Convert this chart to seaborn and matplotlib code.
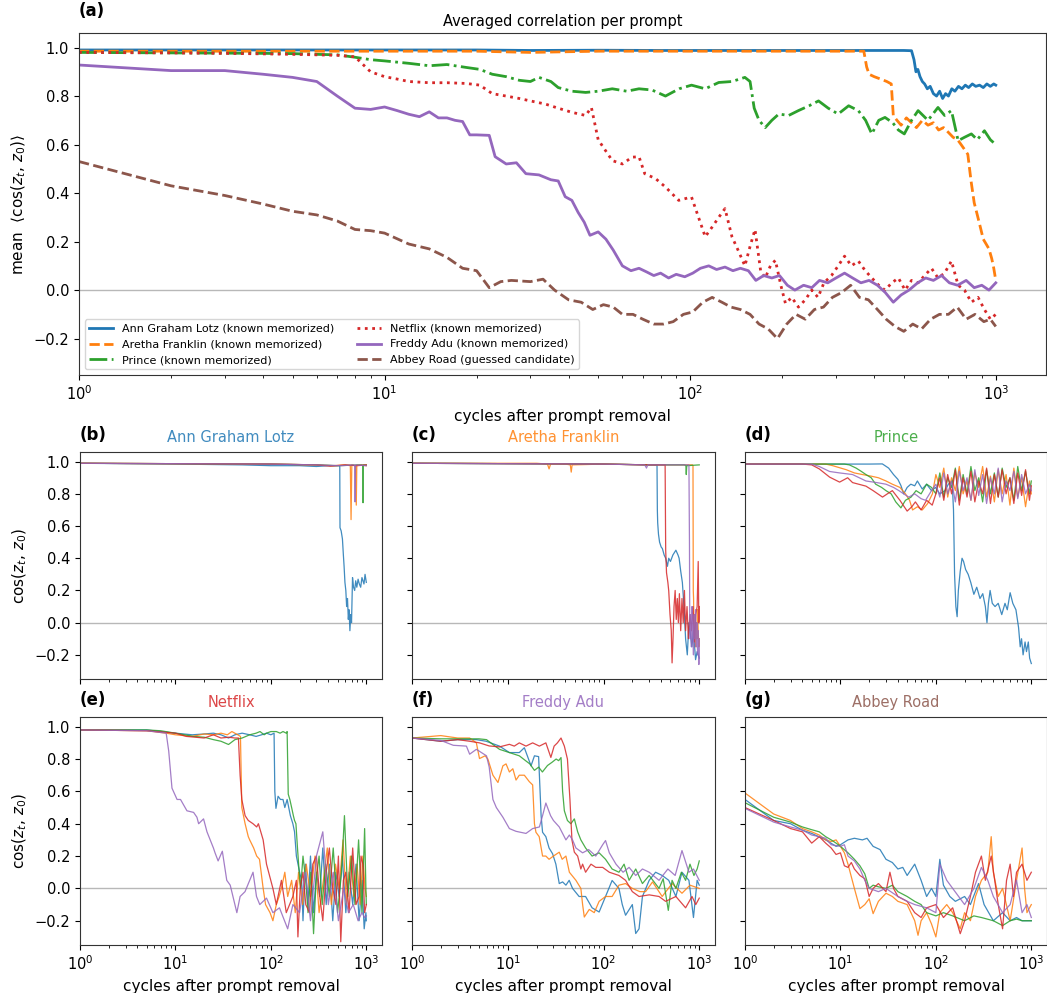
import matplotlib
matplotlib.use("Agg")
import matplotlib.pyplot as plt
import seaborn as sns
import pandas as pd

# ---------------- colours / names ----------------
RUN_COLORS = ["#1f77b4", "#ff7f0e", "#2ca02c", "#d62728", "#9467bd"]
PROMPT_COLORS = ["#1f77b4", "#ff7f0e", "#2ca02c", "#d62728", "#9467bd", "#8c564b"]
PROMPT_NAMES = ["Ann Graham Lotz", "Aretha Franklin", "Prince", "Netflix", "Freddy Adu", "Abbey Road"]
PROMPT_TAGS = ["known memorized"] * 5 + ["guessed candidate"]
PROMPT_STYLES = ["-", "--", "-.", ":", "-", "--"]
PANEL_LABELS = ["(b)", "(c)", "(d)", "(e)", "(f)", "(g)"]

# ---------------- main panel (a): averaged correlation ----------------
lotz_x = [1, 2, 3, 5, 8, 12, 20, 30, 50, 80, 120, 200, 300, 400, 500, 530, 540, 548, 556, 565, 575, 585, 597, 610,
          625, 640, 655, 670, 685, 700, 718, 735, 755, 775, 795, 815, 838, 860, 885, 910, 935, 960, 985, 1000]
lotz_y = [0.99, 0.99, 0.99, 0.99, 0.99, 0.99, 0.99, 0.988, 0.989, 0.988, 0.988, 0.988, 0.988, 0.988, 0.988, 0.987,
          0.95, 0.90, 0.91, 0.88, 0.86, 0.85, 0.83, 0.84, 0.81, 0.80, 0.82, 0.79, 0.81, 0.80, 0.83, 0.82, 0.84, 0.83,
          0.845, 0.835, 0.85, 0.84, 0.845, 0.835, 0.85, 0.84, 0.85, 0.845]

aretha_x = [1, 2, 3, 5, 8, 12, 20, 30, 50, 80, 120, 200, 300, 370, 378, 385, 400, 420, 440, 455, 462, 475, 490, 510,
            530, 550, 575, 600, 625, 650, 675, 700, 725, 750, 770, 790, 810, 830, 850, 870, 890, 910, 930, 950, 970,
            985, 1000]
aretha_y = [0.985, 0.985, 0.985, 0.985, 0.985, 0.985, 0.985, 0.98, 0.985, 0.985, 0.985, 0.985, 0.985, 0.985, 0.92,
            0.89, 0.88, 0.87, 0.86, 0.85, 0.72, 0.70, 0.68, 0.71, 0.69, 0.67, 0.70, 0.68, 0.69, 0.66, 0.67, 0.65, 0.63,
            0.62, 0.60, 0.58, 0.56, 0.45, 0.36, 0.31, 0.26, 0.21, 0.19, 0.17, 0.13, 0.09, 0.04]

prince_x = [1, 2, 3, 4, 5, 6, 7, 8, 9, 10, 12, 14, 16, 18.5, 20.5, 22.5, 25, 27.6, 30, 32, 35, 37, 41, 45.5, 50, 55.6,
            62, 68, 75, 83, 92, 101, 112, 124, 137, 151, 157, 162, 168, 176, 185, 195, 210, 226, 245, 263, 283, 305,
            330, 355, 375, 393, 414, 434, 460, 480, 502, 530, 557, 600, 647, 680, 716, 753, 790, 832, 870, 918, 960,
            1000]
prince_y = [0.98, 0.978, 0.977, 0.976, 0.975, 0.972, 0.97, 0.96, 0.95, 0.945, 0.935, 0.925, 0.93, 0.918, 0.91, 0.89,
            0.88, 0.865, 0.86, 0.877, 0.86, 0.835, 0.82, 0.815, 0.82, 0.83, 0.82, 0.83, 0.825, 0.80, 0.83, 0.845, 0.83,
            0.856, 0.86, 0.877, 0.86, 0.75, 0.70, 0.67, 0.70, 0.726, 0.72, 0.74, 0.76, 0.78, 0.75, 0.726, 0.76, 0.74,
            0.70, 0.644, 0.70, 0.712, 0.69, 0.66, 0.644, 0.70, 0.74, 0.70, 0.753, 0.72, 0.74, 0.616, 0.63, 0.644, 0.62,
            0.657, 0.62, 0.60]

netflix_x = [1, 2, 3, 4, 5, 6, 7, 8, 8.5, 9, 10, 11, 12, 14, 16, 18.5, 20.5, 22.5, 25, 27.6, 30, 33.6, 37, 41, 45.5,
             47.5, 50, 55.6, 60, 64.5, 68, 71, 77, 83, 91.7, 101, 112, 118, 124, 130, 137, 144, 151, 157, 163, 170,
             176, 183, 190, 198, 205, 215, 226, 238, 250, 262, 274, 290, 305, 320, 337, 355, 374, 393, 414, 434, 457,
             480, 505, 530, 557, 585, 616, 647, 680, 716, 753, 790, 832, 875, 918, 960, 1000]
netflix_y = [0.98, 0.978, 0.976, 0.974, 0.972, 0.97, 0.968, 0.962, 0.93, 0.90, 0.88, 0.87, 0.86, 0.855, 0.855, 0.852,
             0.845, 0.81, 0.80, 0.79, 0.78, 0.767, 0.75, 0.733, 0.72, 0.753, 0.62, 0.534, 0.52, 0.548, 0.55, 0.48,
             0.46, 0.425, 0.37, 0.384, 0.22, 0.26, 0.30, 0.336, 0.22, 0.16, 0.10, 0.18, 0.25, 0.08, 0.05, 0.10, 0.123,
             0.02, -0.055, -0.03, -0.07, -0.04, 0.0, -0.03, 0.03, 0.06, 0.10, 0.14, 0.10, 0.12, 0.08, 0.05, 0.02, 0.0,
             0.03, 0.05, 0.0, 0.04, 0.03, 0.06, 0.09, 0.05, 0.07, 0.12, 0.02, 0.0, -0.05, -0.03, -0.08, -0.12, -0.1]

freddy_x = [1, 2, 3, 4, 5, 6, 7, 8, 9, 10, 11, 12, 13, 14, 15, 16, 17, 18, 19, 20, 22, 23, 25, 27, 29, 32, 35, 37, 39,
            41, 43, 45, 47, 50, 53, 56, 60, 64, 68, 72, 76, 80, 85, 90, 96, 102, 108, 115, 122, 130, 138, 146, 155,
            164, 174, 185, 196, 208, 220, 235, 250, 265, 282, 300, 320, 340, 362, 385, 410, 435, 462, 490, 520, 555,
            590, 625, 665, 705, 750, 800, 850, 900, 950, 1000]
freddy_y = [0.928, 0.905, 0.905, 0.89, 0.877, 0.86, 0.80, 0.75, 0.745, 0.755, 0.74, 0.725, 0.715, 0.735, 0.71, 0.71,
            0.70, 0.695, 0.64, 0.64, 0.638, 0.55, 0.52, 0.525, 0.48, 0.475, 0.455, 0.45, 0.385, 0.37, 0.32, 0.28,
            0.226, 0.24, 0.21, 0.165, 0.10, 0.08, 0.09, 0.075, 0.06, 0.07, 0.05, 0.065, 0.055, 0.07, 0.09, 0.10,
            0.085, 0.095, 0.08, 0.09, 0.08, 0.04, 0.06, 0.05, 0.06, 0.02, 0.0, 0.02, 0.01, 0.04, 0.03, 0.05, 0.07,
            0.05, 0.03, 0.04, 0.02, -0.01, -0.05, -0.02, 0.0, 0.03, 0.05, 0.04, 0.06, 0.03, 0.02, 0.04, 0.01, 0.02,
            0.0, 0.03]

abbey_x = [1, 2, 3, 4, 5, 6, 7, 8, 9, 10, 12, 14, 16, 18, 20, 22, 24, 26, 30, 33, 36, 40, 44, 48, 52, 56, 60, 65, 70,
           76, 82, 88, 95, 102, 110, 118, 127, 136, 146, 157, 168, 180, 193, 207, 222, 238, 255, 273, 292, 313, 335,
           358, 383, 410, 438, 468, 500, 535, 572, 612, 654, 700, 748, 800, 855, 914, 960, 1000]
abbey_y = [0.53, 0.43, 0.39, 0.355, 0.325, 0.31, 0.285, 0.25, 0.245, 0.235, 0.19, 0.17, 0.135, 0.09, 0.08, 0.01,
           0.035, 0.04, 0.035, 0.045, 0.0, -0.04, -0.05, -0.08, -0.06, -0.07, -0.1, -0.1, -0.12, -0.14, -0.14, -0.13,
           -0.1, -0.09, -0.05, -0.03, -0.05, -0.07, -0.08, -0.1, -0.14, -0.16, -0.2, -0.14, -0.1, -0.12, -0.08, -0.07,
           -0.03, -0.01, 0.02, -0.03, -0.04, -0.08, -0.12, -0.15, -0.17, -0.14, -0.16, -0.12, -0.1, -0.1, -0.07,
           -0.12, -0.1, -0.13, -0.12, -0.15]

MAIN_X = [lotz_x, aretha_x, prince_x, netflix_x, freddy_x, abbey_x]
MAIN_Y = [lotz_y, aretha_y, prince_y, netflix_y, freddy_y, abbey_y]

# ---------------- panel (b): Ann Graham Lotz, 5 runs ----------------
lotz_runs_x = [
    [1, 10, 50, 100, 200, 300, 400, 500, 527, 530, 545, 562, 575, 585, 597, 610, 622, 635, 648, 660, 673, 687, 700,
     717, 735, 755, 774, 795, 820, 845, 873, 900, 945, 970, 1000],
    [1, 100, 300, 450, 600, 680, 692, 705, 770, 785, 795, 1000],
    [1, 100, 300, 500, 900, 918, 924, 930, 1000],
    [1, 100, 300, 420, 600, 800, 1000],
    [1, 100, 300, 550, 740, 755, 762, 770, 1000],
]
lotz_runs_y = [
    [0.99, 0.985, 0.98, 0.975, 0.975, 0.97, 0.975, 0.975, 0.975, 0.59, 0.57, 0.52, 0.42, 0.35, 0.25, 0.2, 0.10, 0.15,
     0.02, 0.08, -0.05, 0.05, 0.0, 0.28, 0.22, 0.20, 0.26, 0.22, 0.27, 0.24, 0.22, 0.28, 0.24, 0.30, 0.25],
    [0.99, 0.985, 0.98, 0.975, 0.98, 0.975, 0.64, 0.98, 0.975, 0.73, 0.98, 0.975],
    [0.99, 0.985, 0.98, 0.975, 0.98, 0.975, 0.745, 0.98, 0.98],
    [0.99, 0.985, 0.98, 0.972, 0.98, 0.975, 0.98],
    [0.99, 0.985, 0.98, 0.975, 0.98, 0.975, 0.75, 0.98, 0.975],
]

# ---------------- panel (c): Aretha Franklin ----------------
aretha_runs_x = [
    [1, 100, 300, 362, 365, 368, 375, 385, 400, 412, 430, 446, 465, 480, 500, 530, 570, 600, 616, 640, 666, 693, 720,
     750, 780, 810, 838, 870, 915, 950, 1000],
    [1, 20, 26, 27, 28, 40, 45, 46, 47, 100, 300, 850, 860, 866, 872, 880, 890, 900, 915, 930, 945, 960, 975, 990,
     1000],
    [1, 100, 300, 700, 725, 732, 740, 1000],
    [1, 100, 300, 440, 446, 455, 470, 480, 495, 510, 520, 532, 545, 560, 575, 590, 605, 620, 640, 660, 680, 700, 720,
     745, 770, 800, 830, 860, 890, 920, 950, 975, 990, 1000],
    [1, 100, 270, 281, 290, 300, 780, 790, 795, 805, 815, 828, 840, 855, 870, 885, 900, 915, 930, 945, 960, 975, 990,
     1000],
]
aretha_runs_y = [
    [0.99, 0.985, 0.98, 0.98, 0.70, 0.62, 0.55, 0.50, 0.47, 0.46, 0.42, 0.40, 0.35, 0.40, 0.38, 0.42, 0.45, 0.42,
     0.40, 0.32, 0.25, 0.10, -0.10, -0.20, 0.0, -0.08, -0.15, -0.05, -0.23, -0.18, -0.22],
    [0.99, 0.99, 0.985, 0.955, 0.985, 0.985, 0.98, 0.935, 0.98, 0.985, 0.98, 0.98, 0.975, 0.2, 0.15, 0.0, -0.1, 0.05,
     -0.15, 0.0, -0.1, 0.08, -0.05, -0.15, -0.1],
    [0.99, 0.985, 0.98, 0.98, 0.975, 0.92, 0.975, 0.98],
    [0.99, 0.985, 0.98, 0.98, 0.45, 0.31, 0.25, 0.197, 0.05, -0.05, -0.25, -0.1, 0.10, 0.2, 0.02, 0.15, 0.0, 0.18,
     -0.05, 0.15, 0.0, 0.2, -0.05, 0.1, -0.1, 0.05, -0.05, 0.1, -0.12, 0.05, 0.1, 0.38, 0.0, 0.1],
    [0.99, 0.985, 0.98, 0.96, 0.98, 0.98, 0.98, 0.5, 0.05, -0.1, 0.05, -0.15, 0.1, -0.05, -0.2, 0.05, -0.1, 0.08,
     -0.15, 0.0, -0.2, -0.05, -0.26, -0.1],
]

# ---------------- panel (d): Prince ----------------
prince_tail_x = [100, 110, 121, 133, 146, 160, 176, 193, 212, 233, 256, 281, 309, 340, 373, 410, 450, 495, 544, 597,
                 656, 721, 792, 870, 956, 1000]
prince_runs_x = [
    [1, 20, 27.5, 32, 36, 40, 43, 46, 50, 54.6, 60, 64, 72, 80, 90, 99, 110, 125, 135, 148, 153, 157, 162, 167, 172,
     180, 188, 195, 205, 218, 232, 250, 268, 290, 310, 330, 343, 355, 370, 390, 417, 450, 490, 530, 560, 600, 640,
     690, 735, 765, 790, 820, 860, 890, 930, 960, 1000],
    [1, 7, 8.3, 11.5, 14, 17, 21, 25, 30, 35, 42, 48, 53, 57, 64, 72, 82, 92] + prince_tail_x,
    [1, 11, 12.4, 14.6, 16.5, 18.5, 21, 23.4, 27, 30, 34, 38, 43, 48, 55, 62, 70, 80, 90] + prince_tail_x,
    [1, 4, 5, 6, 7.7, 9.8, 11.9, 13.4, 15.5, 18.5, 22, 27.6, 31, 35, 42, 50, 56, 61, 70, 80, 91.6] + prince_tail_x,
    [1, 5, 6, 7.7, 9.8, 13.4, 18.5, 24, 30, 36, 41, 46, 52, 60, 70, 78, 90] + prince_tail_x,
]
prince_runs_y = [
    [0.985, 0.985, 0.986, 0.96, 0.92, 0.89, 0.852, 0.80, 0.84, 0.86, 0.85, 0.88, 0.83, 0.86, 0.82, 0.84, 0.80, 0.82,
     0.86, 0.88, 0.70, 0.30, 0.10, 0.037, 0.2, 0.32, 0.40, 0.38, 0.33, 0.30, 0.25, 0.176, 0.22, 0.15, 0.18, 0.10,
     0.0, 0.12, 0.2, 0.12, 0.10, 0.12, 0.05, 0.12, 0.08, 0.186, 0.12, 0.08, -0.03, -0.15, -0.1, -0.2, -0.12, -0.18,
     -0.12, -0.22, -0.254],
    [0.985, 0.985, 0.975, 0.95, 0.93, 0.92, 0.91, 0.90, 0.88, 0.86, 0.84, 0.80, 0.76, 0.70, 0.72, 0.70, 0.74, 0.80,
     0.92, 0.84, 0.96, 0.78, 0.90, 0.82, 0.97, 0.80, 0.88, 0.76, 0.93, 0.84, 0.97, 0.78, 0.91, 0.75, 0.95, 0.80,
     0.92, 0.73, 0.96, 0.78, 0.90, 0.72, 0.88, 0.80],
    [0.985, 0.985, 0.98, 0.96, 0.94, 0.92, 0.90, 0.86, 0.84, 0.82, 0.80, 0.75, 0.713, 0.76, 0.78, 0.82, 0.80, 0.86,
     0.84, 0.80, 0.93, 0.78, 0.90, 0.84, 0.96, 0.76, 0.92, 0.80, 0.97, 0.82, 0.90, 0.75, 0.95, 0.80, 0.93, 0.78,
     0.96, 0.84, 0.90, 0.76, 0.97, 0.82, 0.94, 0.80, 0.88],
    [0.985, 0.985, 0.98, 0.955, 0.904, 0.873, 0.90, 0.87, 0.86, 0.848, 0.82, 0.78, 0.80, 0.82, 0.76, 0.693, 0.72,
     0.75, 0.70, 0.76, 0.73, 0.80, 0.90, 0.76, 0.92, 0.80, 0.95, 0.73, 0.90, 0.78, 0.94, 0.75, 0.88, 0.80, 0.96,
     0.74, 0.92, 0.78, 0.95, 0.80, 0.90, 0.74, 0.93, 0.79, 0.95, 0.76, 0.85],
    [0.985, 0.985, 0.97, 0.939, 0.93, 0.92, 0.88, 0.87, 0.86, 0.84, 0.82, 0.80, 0.78, 0.80, 0.77, 0.76, 0.82, 0.86,
     0.78, 0.93, 0.80, 0.88, 0.75, 0.94, 0.82, 0.90, 0.76, 0.95, 0.79, 0.92, 0.74, 0.90, 0.80, 0.96, 0.75, 0.88,
     0.82, 0.94, 0.77, 0.92, 0.80, 0.86, 0.82],
]

# ---------------- panel (e): Netflix ----------------
netflix_runs_x = [
    [1, 5, 10, 15, 20, 25, 30, 36, 42, 50, 60, 70, 80, 90, 100, 108, 110, 113, 119, 126, 134, 140, 148, 160, 170,
     177, 185, 200, 210, 217, 230, 245, 260, 280, 300, 325, 350, 380, 410, 445, 480, 520, 560, 610, 660, 720, 780,
     840, 900, 950, 990, 1000],
    [1, 5, 8, 10, 15, 20, 25, 30, 35, 39, 45, 48, 49.6, 53.7, 58, 60, 66, 71, 76, 83, 88, 98, 105, 114, 122, 129,
     140, 150, 165, 180, 195, 215, 235, 260, 290, 320, 355, 390, 430, 475, 520, 570, 620, 680, 740, 800, 860, 920,
     970, 1000],
    [1, 5, 7, 10, 15.5, 20, 25, 30, 36, 42, 50, 60, 70, 77, 85, 90, 100, 114, 125, 134, 145, 148, 152, 158, 165, 172,
     177, 183, 190, 198, 205, 217, 232, 245, 262, 280, 298, 320, 345, 375, 410, 450, 500, 550, 590, 640, 700, 760,
     830, 900, 960, 990, 1000],
    [1, 5, 10, 13, 20, 25, 30, 36, 42, 45.7, 47.6, 49.6, 53.7, 58, 65, 71, 74, 83, 90, 105, 114, 129, 145, 170, 185,
     192, 203, 217, 232, 254, 275, 300, 325, 350, 380, 410, 445, 480, 510, 540, 575, 610, 660, 720, 780, 840, 880,
     920, 960, 1000],
    [1, 5, 8, 8.5, 9.2, 10.4, 11.3, 13.2, 15.5, 16.8, 17.5, 19.7, 21.4, 25, 26, 28, 31, 34.5, 37.5, 44, 47.6, 53.6,
     65, 70.7, 76.5, 90, 105, 123, 150, 170, 200, 230, 260, 300, 350, 400, 450, 510, 580, 650, 730, 820, 900, 960,
     1000],
]
netflix_runs_y = [
    [0.98, 0.98, 0.96, 0.95, 0.955, 0.96, 0.95, 0.93, 0.95, 0.96, 0.95, 0.94, 0.95, 0.96, 0.95, 0.96, 0.60, 0.495,
     0.57, 0.55, 0.55, 0.50, 0.55, 0.45, 0.40, 0.35, 0.2, 0.1, 0.05, -0.2, 0.15, -0.1, 0.2, -0.15, 0.1, -0.05, 0.25,
     -0.1, 0.15, -0.2, 0.1, -0.05, 0.2, -0.15, 0.1, -0.1, 0.15, -0.2, 0.05, -0.25, -0.15, -0.2],
    [0.98, 0.975, 0.96, 0.95, 0.94, 0.955, 0.95, 0.96, 0.95, 0.97, 0.95, 0.94, 0.50, 0.40, 0.32, 0.30, 0.25, 0.2,
     0.18, 0.0, -0.1, -0.15, -0.2, -0.1, -0.05, 0.0, 0.1, -0.05, 0.05, -0.15, 0.1, -0.1, 0.15, -0.05, 0.2, -0.15,
     0.05, 0.25, -0.1, 0.15, 0.0, 0.3, -0.1, 0.2, -0.05, 0.15, -0.1, 0.2, 0.0, -0.05],
    [0.98, 0.98, 0.975, 0.96, 0.94, 0.935, 0.92, 0.91, 0.89, 0.92, 0.93, 0.95, 0.96, 0.97, 0.95, 0.96, 0.97, 0.97,
     0.96, 0.97, 0.96, 0.97, 0.583, 0.55, 0.50, 0.45, 0.42, 0.40, 0.25, 0.1, 0.0, 0.2, 0.05, -0.15, 0.1, -0.28, 0.05,
     0.2, -0.1, 0.15, -0.05, 0.25, -0.15, 0.1, 0.45, -0.05, 0.2, -0.1, 0.3, -0.15, 0.37, 0.0, -0.1],
    [0.98, 0.975, 0.96, 0.94, 0.93, 0.95, 0.93, 0.935, 0.93, 0.93, 0.70, 0.55, 0.45, 0.42, 0.40, 0.38, 0.40, 0.30,
     0.15, 0.0, -0.1, 0.05, -0.15, -0.05, 0.05, -0.3, 0.0, 0.1, -0.1, -0.15, 0.15, 0.2, -0.05, -0.2, 0.1, 0.25, 0.0,
     -0.1, 0.2, -0.33, 0.05, 0.1, -0.15, 0.25, -0.1, -0.05, 0.2, 0.15, -0.15, -0.1],
    [0.98, 0.975, 0.96, 0.85, 0.62, 0.55, 0.55, 0.48, 0.47, 0.44, 0.40, 0.43, 0.35, 0.25, 0.22, 0.17, 0.23, 0.05,
     0.02, -0.15, -0.05, -0.02, 0.1, -0.05, -0.1, -0.06, -0.15, -0.12, -0.25, -0.1, -0.15, 0.1, -0.2, 0.2, 0.35,
     -0.1, 0.1, -0.2, 0.0, -0.15, -0.1, -0.2, -0.15, -0.18, -0.17],
]

# ---------------- panel (f): Freddy Adu ----------------
freddy_runs_x = [
    [1, 2, 3, 4.7, 5.95, 8.2, 10.4, 13.2, 14.9, 17.5, 19, 21, 22.3, 23.1, 25, 27, 29.4, 31.8, 34.5, 37.4, 40.5, 43.8,
     47.5, 55.6, 65, 76, 90, 105, 123, 145, 157, 170, 200, 217, 235, 255, 300, 350, 410, 480, 570, 660, 780, 870,
     950, 1000],
    [1, 2, 3, 4, 4.7, 5.07, 5.8, 6.2, 7.0, 7.9, 8.9, 9.6, 10.4, 11.3, 12.2, 13.2, 14.9, 16.8, 18.2, 19, 19.7, 21.3,
     23.1, 25, 27, 30, 34.5, 37, 40.5, 44, 51.5, 58, 60.5, 63, 71, 80, 90, 105, 123, 145, 170, 200, 240, 275, 325,
     410, 520, 660, 800, 1000],
    [1, 2, 3, 4, 5, 6, 7, 8.2, 10.4, 13.2, 15.5, 17, 19, 21, 23, 26, 29, 32, 34, 36, 37.4, 39, 42, 45.6, 49.6, 53.7,
     58, 65, 76, 90, 105, 123, 145, 164, 185, 217, 255, 300, 380, 420, 475, 520, 570, 650, 720, 800, 880, 950, 1000],
    [1, 2, 3, 4, 5.07, 6.4, 8.2, 10.4, 11.7, 13.2, 15.5, 18.2, 21.4, 25, 28.2, 30.5, 33, 36, 39, 42, 44.6, 46.8,
     49.6, 53.7, 58, 60.5, 65, 74, 83, 98, 115, 145, 170, 200, 235, 300, 380, 445, 570, 720, 840, 920, 1000],
    [1, 2, 2.7, 3.7, 4.0, 4.7, 6.0, 6.4, 7.0, 7.6, 8.9, 10.4, 12.2, 15.5, 18.2, 21.4, 23.1, 25, 28, 30, 34.5, 40.5,
     44, 47.5, 51.5, 60.5, 70, 83, 98, 105, 115, 135, 160, 185, 217, 255, 300, 380, 470, 560, 660, 780, 870, 1000],
]
freddy_runs_y = [
    [0.93, 0.91, 0.92, 0.92, 0.91, 0.88, 0.84, 0.84, 0.87, 0.758, 0.82, 0.815, 0.45, 0.347, 0.32, 0.25, 0.214, 0.15,
     0.03, 0.04, 0.02, 0.05, 0.0, -0.05, -0.05, -0.12, -0.146, -0.05, 0.049, 0.0, -0.1, -0.166, -0.1, -0.279, -0.25,
     -0.05, 0.05, 0.1, 0.08, 0.05, -0.05, 0.1, 0.05, -0.18, 0.05, 0.02],
    [0.93, 0.945, 0.93, 0.93, 0.90, 0.803, 0.82, 0.80, 0.70, 0.655, 0.758, 0.77, 0.72, 0.74, 0.67, 0.70, 0.70, 0.66,
     0.64, 0.40, 0.347, 0.32, 0.20, 0.20, 0.18, 0.20, 0.224, 0.18, 0.20, 0.10, 0.05, 0.0, -0.1, -0.177, -0.13, -0.15,
     -0.08, -0.05, -0.05, 0.02, 0.03, 0.0, -0.02, -0.02, 0.04, -0.05, 0.03, -0.03, 0.02, 0.0],
    [0.93, 0.925, 0.925, 0.925, 0.925, 0.92, 0.89, 0.86, 0.84, 0.82, 0.788, 0.77, 0.73, 0.75, 0.72, 0.76, 0.78, 0.80,
     0.79, 0.809, 0.60, 0.48, 0.42, 0.40, 0.43, 0.35, 0.30, 0.25, 0.2, 0.22, 0.18, 0.12, 0.10, 0.15, 0.05, 0.12,
     0.03, 0.08, 0.0, 0.06, -0.136, 0.05, 0.0, 0.1, 0.05, 0.15, 0.08, 0.12, 0.17],
    [0.93, 0.91, 0.92, 0.91, 0.90, 0.881, 0.875, 0.891, 0.88, 0.90, 0.88, 0.90, 0.88, 0.90, 0.81, 0.88, 0.90, 0.93,
     0.88, 0.80, 0.55, 0.30, 0.224, 0.20, 0.12, 0.15, 0.10, 0.15, 0.13, 0.13, 0.10, 0.08, 0.05, -0.02, -0.05, -0.04,
     -0.05, -0.08, -0.05, -0.12, -0.05, -0.1, -0.06],
    [0.93, 0.915, 0.885, 0.88, 0.83, 0.86, 0.82, 0.75, 0.55, 0.50, 0.44, 0.37, 0.353, 0.34, 0.37, 0.38, 0.45, 0.528,
     0.45, 0.42, 0.38, 0.30, 0.33, 0.30, 0.25, 0.22, 0.24, 0.20, 0.27, 0.296, 0.22, 0.15, 0.10, 0.13, 0.08, 0.12,
     0.10, 0.05, 0.12, 0.08, 0.234, 0.1, 0.12, 0.05],
]

# ---------------- panel (g): Abbey Road ----------------
abbey_runs_x = [
    [1, 2, 3, 4, 5, 7, 9, 10, 12, 14, 17, 19, 22, 26, 30, 35, 40, 45, 50, 60, 70, 80, 90, 100, 110, 120, 140, 160,
     200, 230, 280, 320, 400, 500, 600, 700, 800, 1000],
    [1, 2, 3, 4, 5, 6, 7, 8, 9, 10, 11, 12, 14, 16, 18, 20, 22, 25, 30, 35, 40, 50, 60, 65, 70, 80, 90, 100, 110,
     130, 150, 180, 200, 230, 260, 300, 350, 380, 400, 450, 500, 600, 700, 800, 850, 900, 1000],
    [1, 2, 3, 4, 5, 6, 7, 8, 9, 10, 12, 14, 16, 18, 20, 22, 25, 30, 35, 40, 50, 60, 70, 80, 100, 120, 150, 200, 250,
     300, 400, 500, 600, 700, 800, 1000],
    [1, 2, 3, 4, 5, 6, 7, 8, 9, 10, 11, 12, 13, 14, 16, 18, 20, 22, 25, 30, 33, 36, 40, 50, 60, 70, 80, 100, 120,
     150, 180, 200, 230, 260, 300, 330, 380, 450, 500, 550, 600, 650, 700, 800, 900, 1000],
    [1, 2, 3, 4, 5, 6, 7, 8, 10, 11, 12, 14, 16, 18, 20, 25, 30, 40, 50, 60, 80, 100, 110, 130, 150, 200, 250, 300,
     350, 400, 500, 600, 700, 800, 900, 1000],
]
abbey_runs_y = [
    [0.55, 0.42, 0.40, 0.36, 0.34, 0.30, 0.26, 0.27, 0.30, 0.31, 0.30, 0.31, 0.26, 0.24, 0.18, 0.16, 0.12, 0.13,
     0.08, 0.15, 0.05, -0.05, 0.0, -0.05, 0.18, 0.02, -0.05, -0.08, -0.05, -0.1, 0.03, -0.1, -0.2, -0.15, -0.2,
     -0.18, -0.2, -0.2],
    [0.59, 0.46, 0.42, 0.37, 0.35, 0.33, 0.30, 0.29, 0.30, 0.26, 0.22, 0.15, 0.0, -0.125, -0.1, -0.064, -0.156,
     -0.08, -0.03, -0.05, -0.08, -0.1, -0.2, -0.29, -0.2, -0.15, -0.22, -0.3, -0.15, -0.1, -0.15, -0.25, -0.15,
     -0.2, -0.05, 0.05, 0.1, 0.32, 0.1, -0.05, 0.0, -0.2, 0.05, 0.25, 0.0, -0.15, -0.1],
    [0.53, 0.44, 0.41, 0.38, 0.363, 0.35, 0.32, 0.30, 0.28, 0.26, 0.22, 0.18, 0.14, 0.09, 0.0, 0.02, 0.01, 0.0, 0.02,
     -0.02, -0.05, -0.08, -0.1, -0.15, -0.17, -0.15, -0.17, -0.2, -0.17, -0.18, -0.2, -0.23, -0.2, -0.19, -0.2,
     -0.2],
    [0.50, 0.42, 0.37, 0.35, 0.28, 0.32, 0.28, 0.25, 0.21, 0.22, 0.14, 0.13, 0.16, 0.12, 0.08, 0.06, -0.05, 0.0,
     0.03, -0.02, 0.1, 0.0, -0.05, -0.08, -0.15, -0.18, -0.12, -0.1, -0.18, -0.12, -0.28, -0.2, -0.05, 0.1, 0.2,
     0.05, 0.2, -0.1, -0.25, 0.05, 0.15, -0.05, 0.1, 0.15, 0.05, 0.1],
    [0.495, 0.41, 0.38, 0.36, 0.33, 0.32, 0.31, 0.27, 0.26, 0.27, 0.20, 0.17, 0.12, 0.05, 0.0, -0.02, 0.0, -0.05,
     -0.08, -0.1, -0.12, -0.15, 0.15, 0.05, 0.0, -0.1, 0.0, 0.13, 0.05, -0.05, -0.15, -0.1, 0.05, -0.15, -0.1,
     -0.18],
]

PANEL_RUNS_X = [lotz_runs_x, aretha_runs_x, prince_runs_x, netflix_runs_x, freddy_runs_x, abbey_runs_x]
PANEL_RUNS_Y = [lotz_runs_y, aretha_runs_y, prince_runs_y, netflix_runs_y, freddy_runs_y, abbey_runs_y]

YTICKS = [-0.2, 0.0, 0.2, 0.4, 0.6, 0.8, 1.0]
XLIM = (1, 1460)
YLIM = (-0.35, 1.06)

# ---------------- drawing ----------------
plt.rcParams["font.family"] = ["DejaVu Sans"]
plt.rcParams["axes.edgecolor"] = "0.2"

W, H = 1047, 993
fig = plt.figure(figsize=(W / 100, H / 100), dpi=100)


def box(l, t, r, b):
    return [l / W, 1 - b / H, (r - l) / W, (b - t) / H]


def draw(ax, x, y, **kw):
    df = pd.DataFrame({"x": x, "y": y})
    sns.lineplot(data=df, x="x", y="y", ax=ax, estimator=None, sort=False, **kw)


def style_axes(ax):
    ax.set_xscale("log")
    ax.set_xlim(*XLIM)
    ax.set_ylim(*YLIM)
    ax.set_yticks(YTICKS)
    ax.axhline(0, color="0.72", lw=1.0, zorder=0)
    ax.tick_params(labelsize=10.5)
    ax.set_xlabel("")
    ax.set_ylabel("")


# main panel
ax = fig.add_axes(box(79, 33, 1046, 375))
for i in range(6):
    draw(ax, MAIN_X[i], MAIN_Y[i], color=PROMPT_COLORS[i], linewidth=2.0, linestyle=PROMPT_STYLES[i],
         label=f"{PROMPT_NAMES[i]} ({PROMPT_TAGS[i]})")
style_axes(ax)
ax.set_title("Averaged correlation per prompt", fontsize=10.5, pad=5)
ax.set_xlabel("cycles after prompt removal", fontsize=11)
ax.set_ylabel(r"mean  $\langle\cos(z_t,\,z_0)\rangle$", fontsize=11)
ax.legend(loc="lower left", ncol=2, fontsize=8, columnspacing=2.0, handlelength=2.2)
ax.annotate("(a)", xy=(0, 1), xycoords="axes fraction", xytext=(0, 9), textcoords="offset points",
            fontweight="bold", fontsize=12, ha="left", va="bottom")

cols = [(80, 382), (412, 715), (745, 1047)]
rows = [(452, 679), (717, 945)]
for p in range(6):
    r, c = divmod(p, 3)
    l, rr = cols[c]
    t, b = rows[r]
    sax = fig.add_axes(box(l, t, rr, b))
    for k in range(5):
        draw(sax, PANEL_RUNS_X[p][k], PANEL_RUNS_Y[p][k], color=RUN_COLORS[k], linewidth=0.9, alpha=0.85)
    style_axes(sax)
    sax.set_title(PROMPT_NAMES[p], color=PROMPT_COLORS[p], fontsize=10.5, alpha=0.85, pad=7)
    sax.annotate(PANEL_LABELS[p], xy=(0, 1), xycoords="axes fraction", xytext=(0, 6), textcoords="offset points",
                 fontweight="bold", fontsize=12, ha="left", va="bottom")
    if c == 0:
        sax.set_ylabel(r"$\cos(z_t,\,z_0)$", fontsize=11)
    else:
        sax.tick_params(labelleft=False)
    if r == 0:
        sax.tick_params(labelbottom=False)
    else:
        sax.set_xlabel("cycles after prompt removal", fontsize=11)

fig.savefig("out.png", dpi=100)
